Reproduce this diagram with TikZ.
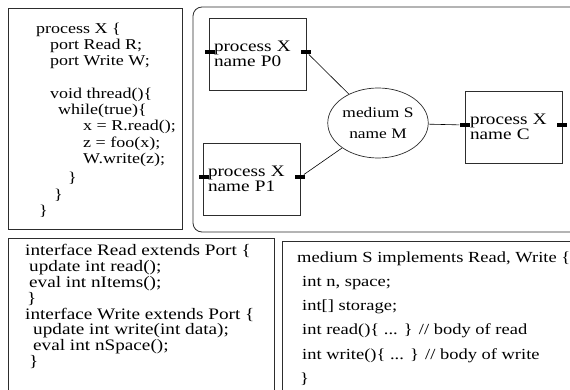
\documentclass[tikz,border=0pt]{standalone}
\usepackage{fontspec}
\setmainfont{Liberation Serif}[FakeStretch=1.2]
\usetikzlibrary{positioning, shapes.geometric, calc}
\definecolor{frame}{RGB}{45,45,45}

\begin{document}
\begin{tikzpicture}[x=1pt, y=-1pt,
  box/.style={draw=frame, line width=0.8pt},
  code/.style={align=left, inner sep=0pt, anchor=north west},
  proc/.style={draw=frame, line width=0.7pt, minimum width=97pt, minimum height=72pt,
    text width=87pt, align=left, inner sep=0pt, font=\fontsize{16}{15.5}\selectfont},
  port/.style={fill=black, minimum width=10pt, minimum height=4.5pt, inner sep=0pt},
  medium/.style={draw=frame, line width=0.7pt, ellipse, minimum width=86pt, minimum height=70pt,
    inner sep=0pt, align=center, font=\fontsize{14.5}{21}\selectfont},
  link/.style={draw=black, line width=0.6pt}]
  \path[use as bounding box, fill=white] (0,0) rectangle (570,390);

  % process definition
  \node[box, anchor=north west, minimum width=174pt, minimum height=221pt, inner sep=0pt] (xdef) at (8,8) {};
  \node[code, font=\fontsize{15}{16.3}\selectfont] (xcode) at (36,22.5) {process X \{\\
    \hspace*{14pt}port Read R;\\
    \hspace*{14pt}port Write W;\\[16.3pt]
    \hspace*{14pt}void thread()\{\\
    \hspace*{22pt}while(true)\{\\
    \hspace*{47pt}x = R.read();\\
    \hspace*{47pt}z = foo(x);\\
    \hspace*{47pt}W.write(z);\\[3pt]
    \hspace*{32pt}\}\\
    \hspace*{18pt}\}\\
    \hspace*{3pt}\}};

  % netlist
  \draw[box, rounded corners=9pt] (572,7) -| (193,232) -- (572,232);
  \node[proc] (p0) at (257.5,54) {process X\\name P0};
  \node[proc] (p1) at (251.5,179) {process X\\name P1};
  \node[proc] (c) at (513.5,127) {process X\\name C};
  \node[medium] (m) at (378,123) {medium S\\name M};
  \node[port] (p0l) at ($(p0.west)+(1,-2)$) {};
  \node[port] (p0r) at ($(p0.east)+(0,-2)$) {};
  \node[port] (p1l) at ($(p1.west)+(1,-2)$) {};
  \node[port] (p1r) at ($(p1.east)+(0,-2)$) {};
  \node[port] (cl) at ($(c.west)+(0,-2)$) {};
  \node[port] (cr) at ($(c.east)+(0,-2)$) {};
  \draw[link] (p0r) -- (m);
  \draw[link] (p1r) -- (m);
  \draw[link] (m) -- (cl);

  % interfaces
  \draw[box] (8,392) |- (274,238) -- (274,392);
  \node[code, font=\fontsize{16}{15.9}\selectfont] (ifaces) at (25,244) {interface Read extends Port \{\\
    \hspace*{4pt}update int read();\\
    \hspace*{4pt}eval int nItems();\\
    \hspace*{2pt}\}\\
    interface Write extends Port \{\\
    \hspace*{8pt}update int write(int data);\\
    \hspace*{8pt}eval int nSpace();\\
    \hspace*{4pt}\}};

  % medium implementation
  \draw[box] (282,392) |- (572,241);
  \node[code, font=\fontsize{15.4}{24.2}\selectfont] (impl) at (297,251.5) {medium S implements Read, Write \{\\
    \hspace*{5pt}int n, space;\\
    \hspace*{5pt}int[] storage;\\
    \hspace*{5pt}int read()\{ ... \} // body of read\\
    \hspace*{5pt}int write()\{ ... \} // body of write\\
    \hspace*{3pt}\}};
\end{tikzpicture}
\end{document}
